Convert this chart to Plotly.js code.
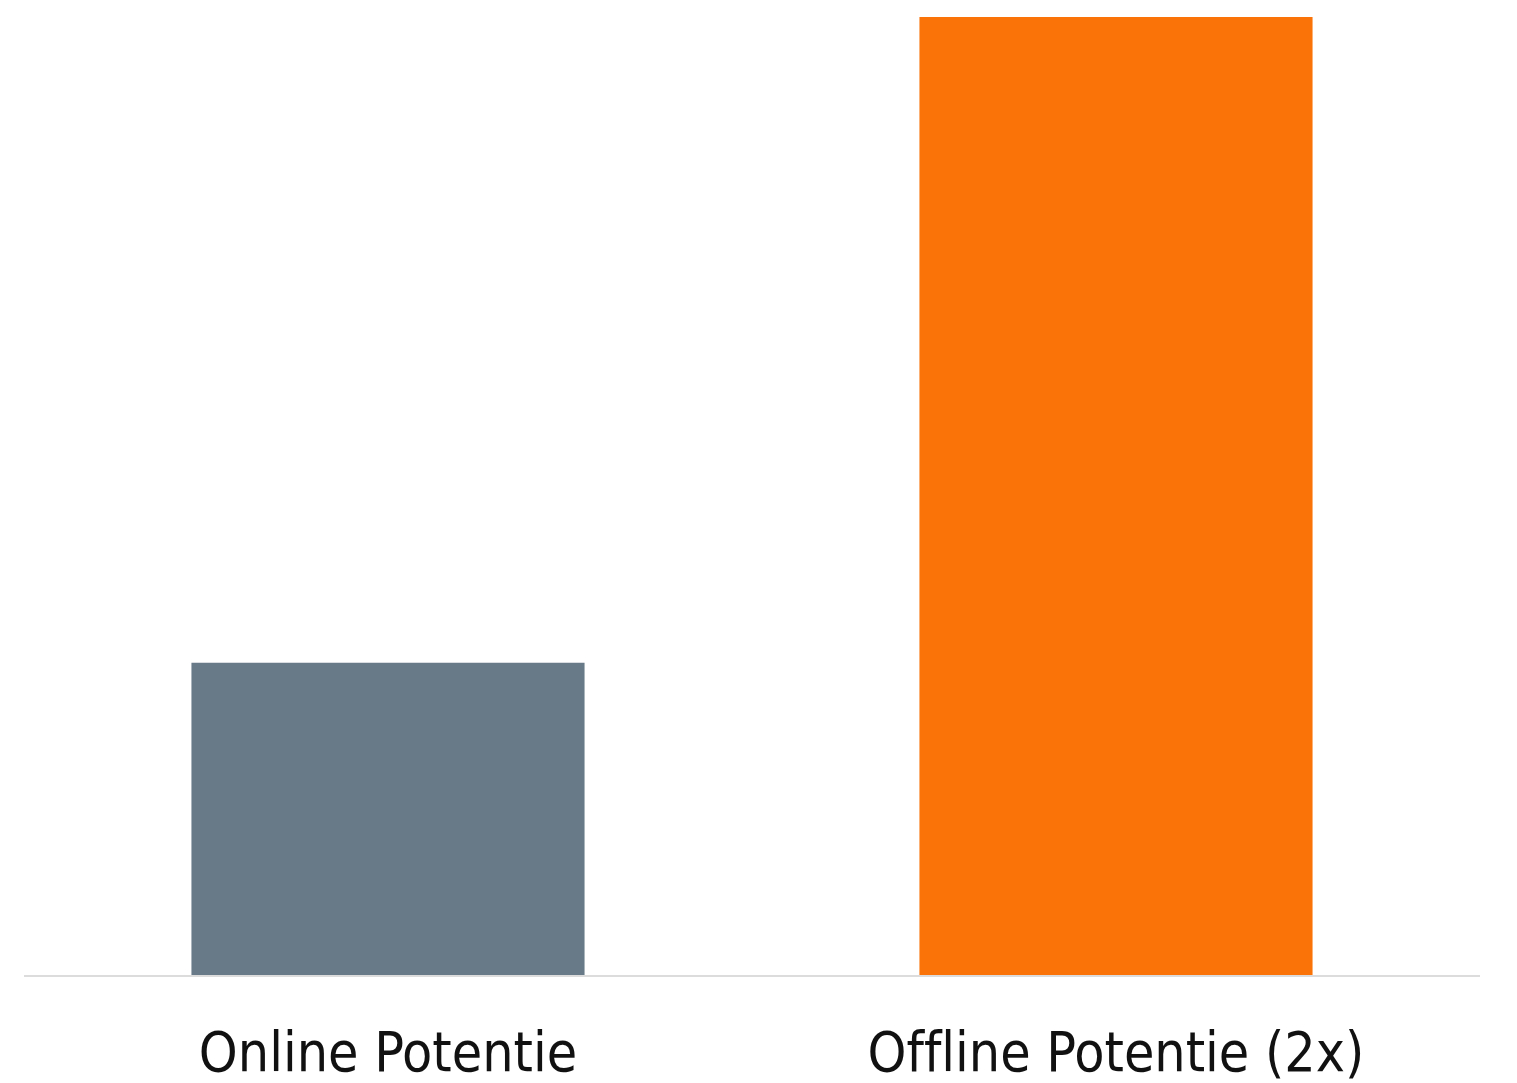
<!DOCTYPE html>
<html>
<head>
<meta charset="utf-8">
<script src="https://cdn.plot.ly/plotly-3.0.1.min.js"></script>
<style>html,body{margin:0;padding:0;background:#fff;}#chart{width:1517px;height:1083px;}
.xtick text{font-variant-ligatures:none;font-feature-settings:"liga" 0;}</style>
</head>
<body>
<div id="chart"></div>
<script>
const categories = ["Online Potentie", "Offline Potentie (2x)"];
const values = [32.6, 100];
const barColors = ["#687a88", "#f97308"];

const trace = {
  type: "bar",
  x: categories,
  y: values,
  marker: {color: barColors, line: {width: 0}},
  hoverinfo: "none"
};

const layout = {
  width: 1517,
  height: 1083,
  margin: {l: 24, r: 37, t: 17, b: 108},
  paper_bgcolor: "#ffffff",
  plot_bgcolor: "#ffffff",
  bargap: 0.46,
  showlegend: false,
  xaxis: {
    showline: true,
    linecolor: "#dcdcdc",
    linewidth: 2,
    showgrid: false,
    zeroline: false,
    ticks: "",
    tickfont: {family: "'DejaVu Sans Condensed', 'Liberation Sans Narrow', Roboto, sans-serif", size: 55, color: "#111111"},
    ticklabelstandoff: 28
  },
  yaxis: {
    range: [0, 100],
    visible: false,
    showgrid: false,
    zeroline: false
  }
};

Plotly.newPlot("chart", [trace], layout, {displayModeBar: false, staticPlot: true});
</script>
</body>
</html>
